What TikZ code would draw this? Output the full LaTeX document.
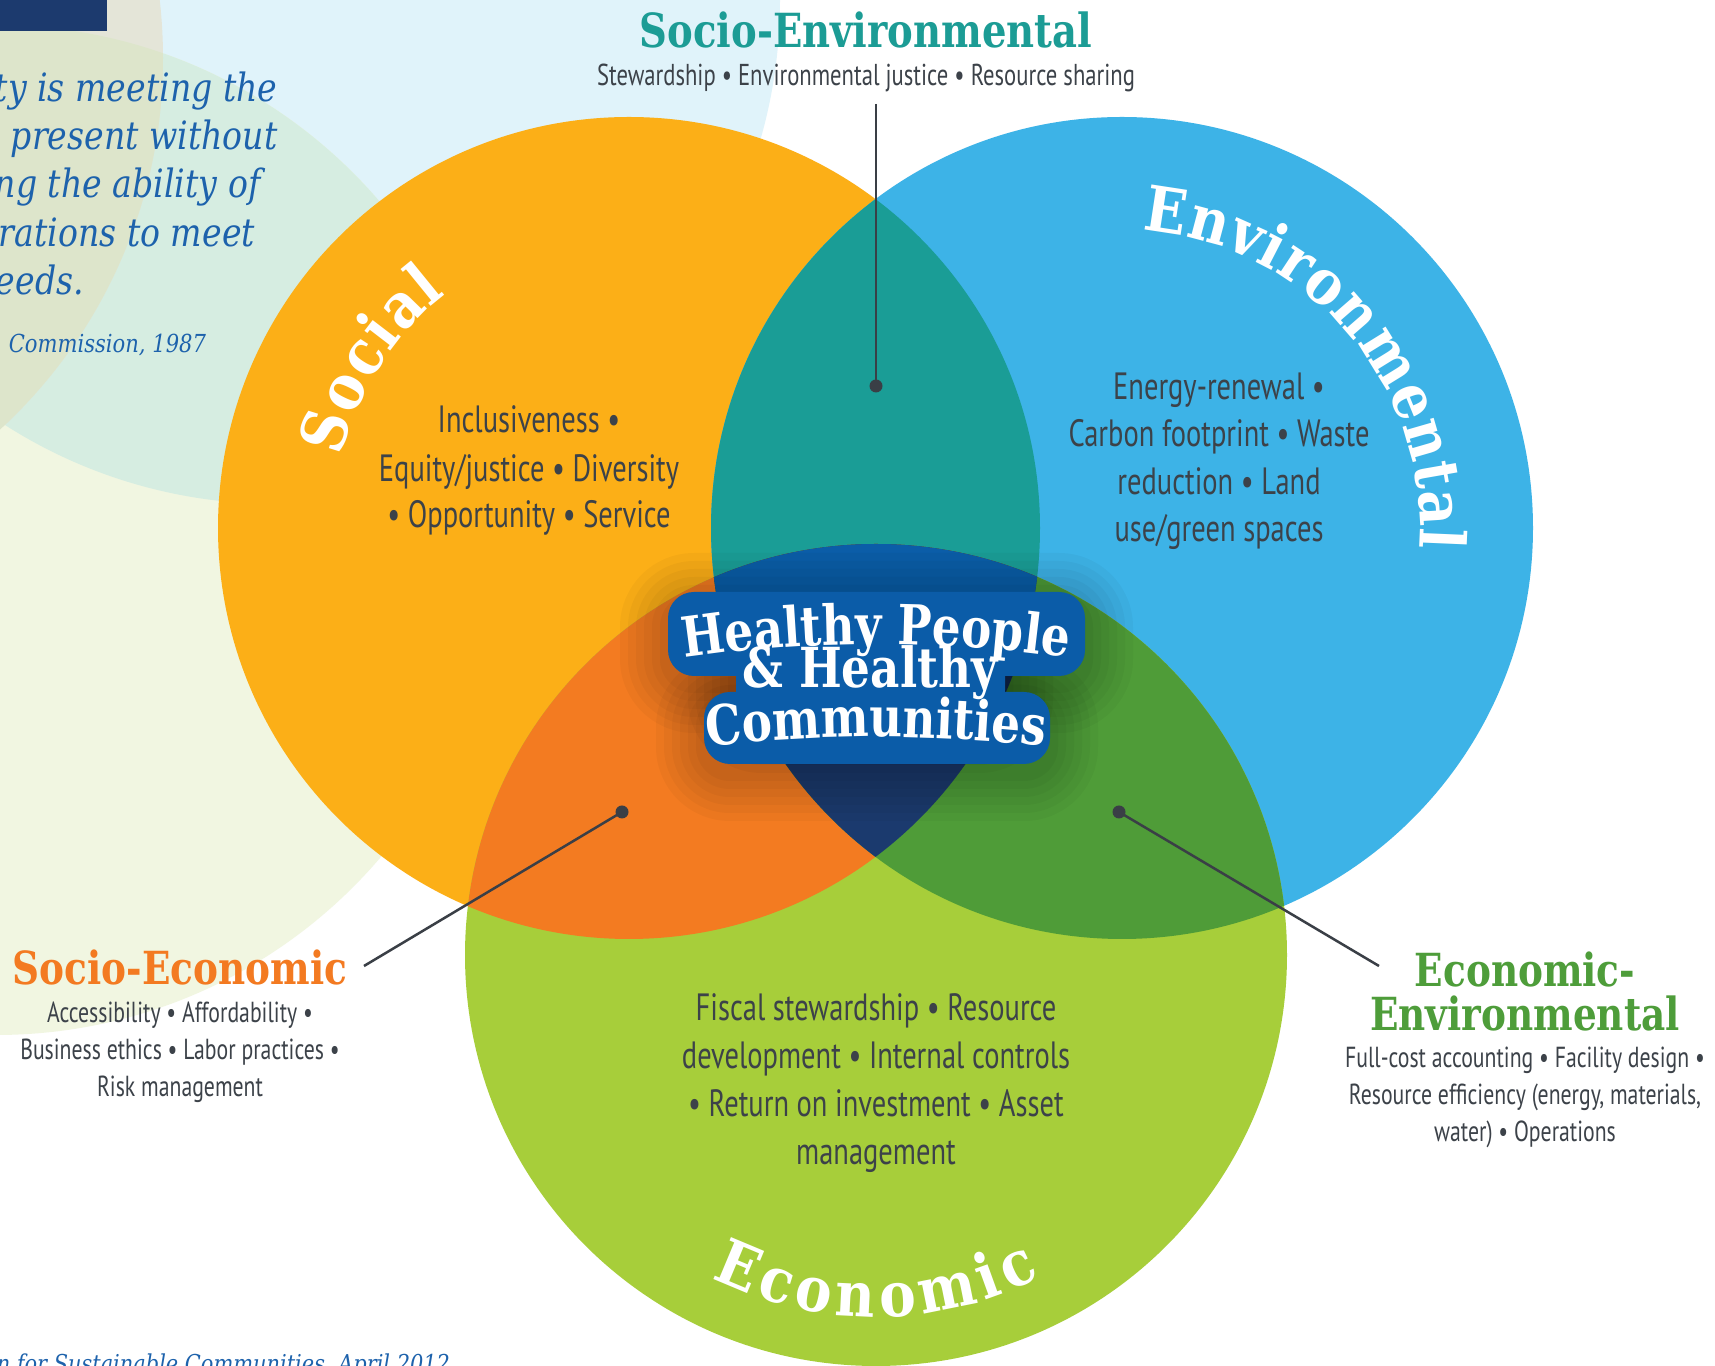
\documentclass[tikz,border=0pt]{standalone}
\usepackage{fontspec}
\usetikzlibrary{decorations.text}
\newfontfamily\condf[FakeStretch=0.75]{PT Sans}
\newfontfamily\slabf[FakeStretch=0.82]{DejaVu Serif}
\newfontfamily\ttlf[FakeStretch=0.88]{DejaVu Serif}
\newfontfamily\quotef[FakeStretch=0.85]{DejaVu Serif}
\definecolor{socO}{HTML}{FCAF17}
\definecolor{envB}{HTML}{3DB3E7}
\definecolor{ecoG}{HTML}{A7CE3A}
\definecolor{seTeal}{HTML}{1A9D96}
\definecolor{sxOr}{HTML}{F37B21}
\definecolor{eeGr}{HTML}{4F9C38}
\definecolor{triTop}{HTML}{0B5DA8}
\definecolor{triBot}{HTML}{1B3A6E}
\definecolor{lblue}{HTML}{0B5CA8}
\definecolor{txt}{HTML}{3C4249}
\definecolor{qblue}{HTML}{1D62AC}
\definecolor{pblue}{HTML}{E0F3FA}
\definecolor{pgreen}{HTML}{F1F6E1}
\definecolor{pmint}{HTML}{D6EDE1}
\definecolor{pbeige}{HTML}{E4E5D8}
\definecolor{pdark}{HTML}{DDE5CB}
\definecolor{navyr}{HTML}{1C3A6E}
\definecolor{seHead}{HTML}{1C9C95}
\definecolor{sxHead}{HTML}{F37A21}
\definecolor{eeHead}{HTML}{4E9D3A}
\definecolor{lineC}{HTML}{3A3F46}
% 1 unit = 0.25pt ; font sizes given in pt = px/4
\newcommand\ttlfont{\ttlf\bfseries\fontsize{15.6}{16}\selectfont}
\newcommand\lblfont{\slabf\bfseries\fontsize{13.8}{14}\selectfont}
\tikzset{
  bodytxt/.style={font=\condf\fontsize{9.5}{11.5}\selectfont, text=txt, inner sep=0pt, anchor=base},
  smalltxt/.style={font=\condf\fontsize{7.25}{9.25}\selectfont, text=txt, inner sep=0pt, anchor=base},
  subtxt/.style={font=\condf\fontsize{7.55}{9.5}\selectfont, text=txt, inner sep=0pt, anchor=base},
  headtxt/.style={font=\slabf\bfseries\fontsize{11.4}{12.5}\selectfont, inner sep=0pt, anchor=base},
  quotetxt/.style={font=\quotef\itshape\fontsize{9.75}{12}\selectfont, text=qblue, inner sep=0pt, anchor=base west},
  lbltxt/.style={font=\lblfont, text=white, inner sep=0pt, anchor=base},
  blobst/.style={fill=lblue, draw=none, rounded corners=6.5pt, inner sep=0pt},
  shadst/.style={fill=black, draw=none, inner sep=0pt, opacity=0.03},
  dotst/.style={circle, fill=lineC, inner sep=0pt, minimum size=3.25pt},
  leader/.style={draw=lineC, line width=0.625pt},
}
\begin{document}
\begin{tikzpicture}[x=0.25pt,y=-0.25pt]
\useasboundingbox (0,0) rectangle (1715,1366);
\clip (0,0) rectangle (1715,1366);
\fill[white] (0,0) rectangle (1715,1366);
% pale background circles
\coordinate (bA) at (276,0);
\coordinate (bB) at (-4,530);
\coordinate (bC) at (-342,58);
\fill[pblue] (bA) circle[radius=504];
\fill[pgreen] (bB) circle[radius=505];
\begin{scope}
  \clip (bA) circle[radius=504];
  \fill[pmint] (bB) circle[radius=505];
\end{scope}
\begin{scope}
  \clip (bC) circle[radius=505];
  \fill[pbeige] (bA) circle[radius=504];
  \fill[pdark] (bB) circle[radius=505];
\end{scope}
\fill[navyr] (0,0) rectangle (107,31);
% quote
\node[quotetxt] (q1) at (-6,102) {ty is meeting the};
\node[quotetxt] (q2) at (10,150) {present without};
\node[quotetxt] (q3) at (-6,198) {ng the ability of};
\node[quotetxt] (q4) at (-2,247) {rations to meet};
\node[quotetxt] (q5) at (-5,295) {eeds.};
\node[quotetxt, font=\quotef\itshape\fontsize{6.2}{8}\selectfont] (q6) at (8,353) {Commission, 1987};
\node[quotetxt, font=\quotef\itshape\fontsize{6.15}{8}\selectfont] (q7) at (-4,1373) {n for Sustainable Communities, April 2012};
% main circles
\coordinate (S) at (629,528);
\coordinate (E) at (1122,528);
\coordinate (C) at (876,955);
\fill[socO] (S) circle[radius=411];
\fill[envB] (E) circle[radius=411];
\fill[ecoG] (C) circle[radius=411];
\begin{scope}
  \clip (S) circle[radius=411];
  \fill[seTeal] (E) circle[radius=411];
  \fill[sxOr] (C) circle[radius=411];
\end{scope}
\begin{scope}
  \clip (E) circle[radius=411];
  \fill[eeGr] (C) circle[radius=411];
\end{scope}
\begin{scope}
  \clip (S) circle[radius=411];
  \clip (E) circle[radius=411];
  \fill[triBot] (C) circle[radius=411];
  \clip (0,0) rectangle (1715,665);
  \fill[triTop] (C) circle[radius=411];
\end{scope}
% circle titles
\path[decorate, decoration={text along path, text={|\ttlfont|Social}, text align={fit to path}, text color=white}]
  plot[domain=166:128, samples=18] ({629+297*cos(\x)}, {528-297*sin(\x)});
\path[decorate, decoration={text along path, text={|\ttlfont|Environmental}, text align={fit to path}, text color=white}]
  plot[domain=86:-4, samples=30] ({1122+298*cos(\x)}, {528-298*sin(\x)});
\path[decorate, decoration={text along path, text={|\ttlfont|Economic}, text align={fit to path}, text color=white}]
  plot[domain=243:297, samples=20] ({876+362*cos(\x)}, {955-362*sin(\x)});
% circle items
\node[bodytxt] (so1) at (529,433) {Inclusiveness •};
\node[bodytxt] (so2) at (529,482) {Equity/justice • Diversity};
\node[bodytxt] (so3) at (529,528) {• Opportunity • Service};
\node[bodytxt] (en1) at (1219,400) {Energy-renewal •};
\node[bodytxt] (en2) at (1219,447) {Carbon footprint • Waste};
\node[bodytxt] (en3) at (1219,495) {reduction • Land};
\node[bodytxt] (en4) at (1219,542) {use/green spaces};
\node[bodytxt] (ec1) at (876,1021) {Fiscal stewardship • Resource};
\node[bodytxt] (ec2) at (876,1069) {development • Internal controls};
\node[bodytxt] (ec3) at (876,1117) {• Return on investment • Asset};
\node[bodytxt] (ec4) at (876,1165) {management};
% headings
\node[headtxt, text=seHead, font=\slabf\bfseries\fontsize{11.75}{12.5}\selectfont] (seH) at (866,48) {Socio-Environmental};
\node[subtxt] (seI) at (866,86) {Stewardship • Environmental justice • Resource sharing};
\node[headtxt, text=sxHead] (sxH) at (180,985) {Socio-Economic};
\node[smalltxt] (sx1) at (180,1023) {Accessibility • Affordability •};
\node[smalltxt] (sx2) at (180,1060) {Business ethics • Labor practices •};
\node[smalltxt] (sx3) at (180,1097) {Risk management};
\node[headtxt, text=eeHead] (eeH1) at (1525,987) {Economic-};
\node[headtxt, text=eeHead] (eeH2) at (1525,1031) {Environmental};
\node[smalltxt] (ee1) at (1525,1068) {Full-cost accounting • Facility design •};
\node[smalltxt] (ee2) at (1525,1105) {Resource efficiency (energy, materials,};
\node[smalltxt] (ee3) at (1525,1142) {water) • Operations};
% leaders
\coordinate (seTop) at (876,104);
\node[dotst] (seDot) at (876,386) {};
\draw[leader] (seTop) -- (seDot.center);
\coordinate (sxEnd) at (364,966);
\node[dotst] (sxDot) at (622,812) {};
\draw[leader] (sxEnd) -- (sxDot.center);
\coordinate (eeEnd) at (1379,966);
\node[dotst] (eeDot) at (1119,812) {};
\draw[leader] (eeDot.center) -- (eeEnd);
% centre label: soft shadow
\foreach \i/\e in {1/12, 2/10, 3/8, 4/6, 5/4, 6/2}{
  \node[shadst, rounded corners={6.5+\e}, minimum width={104.25+2*\e}, minimum height={21+2*\e}] (shA\i) at (876.5,643) {};
  \node[shadst, rounded corners={6.5+\e}, minimum width={67.25+2*\e}, minimum height={19+2*\e}] (shB\i) at (870.5,687) {};
  \node[shadst, rounded corners={6.5+\e}, minimum width={86.5+2*\e}, minimum height={18+2*\e}] (shC\i) at (877,737) {};
}
% centre label: blue blob
\node[blobst, minimum width=104.25pt, minimum height=21pt] (blobA) at (876.5,634) {};
\node[blobst, minimum width=67.25pt, minimum height=19pt] (blobB) at (870.5,678) {};
\node[blobst, minimum width=86.5pt, minimum height=18pt] (blobC) at (877,728) {};
% centre label: white text
\path[decorate, decoration={text along path, text={|\lblfont|Healthy People}, text align=center, text color=white}]
  plot[domain=101:79, samples=30] ({876+1337*cos(\x)}, {1981-1337*sin(\x)});
\node[lbltxt] (lblB) at (870,688) {\& Healthy};
\path[decorate, decoration={text along path, text={|\lblfont|Communities}, text align=center, text color=white}]
  plot[domain=99:81, samples=30] ({876+1545*cos(\x)}, {2282-1545*sin(\x)});
\end{tikzpicture}
\end{document}
